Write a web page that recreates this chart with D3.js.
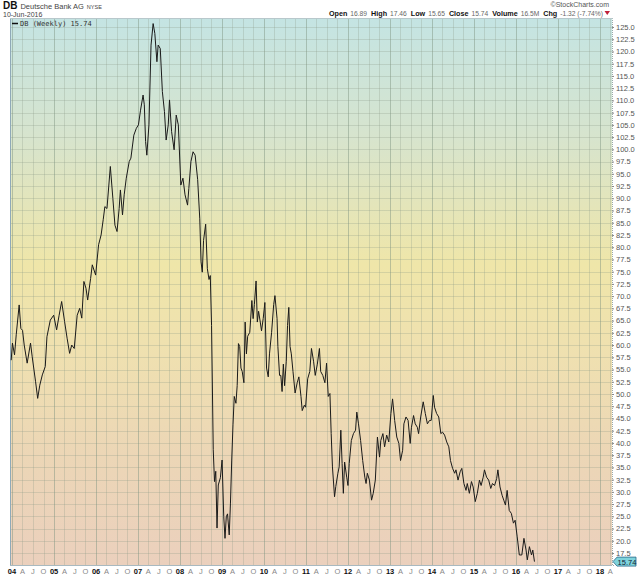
<!DOCTYPE html>
<html><head><meta charset="utf-8">
<script src="https://cdn.jsdelivr.net/npm/d3@7"></script>
<style>body{margin:0;background:#fff}svg{display:block}</style>
</head><body>
<svg id="c" width="640" height="576"></svg>
<script>
// ---- data (decimal years, weekly-ish closes) ----
const dates = [2003.98,2004.01,2004.06,2004.10,2004.17,2004.21,2004.25,2004.29,2004.36,2004.44,2004.48,2004.56,2004.61,2004.66,2004.72,2004.79,2004.83,2004.91,2004.99,2005.06,2005.12,2005.18,2005.25,2005.31,2005.37,2005.42,2005.48,2005.55,2005.61,2005.66,2005.71,2005.76,2005.80,2005.87,2005.91,2005.99,2006.06,2006.12,2006.17,2006.21,2006.26,2006.34,2006.40,2006.45,2006.50,2006.55,2006.58,2006.63,2006.67,2006.72,2006.79,2006.83,2006.90,2006.96,2007.01,2007.06,2007.12,2007.15,2007.18,2007.21,2007.26,2007.31,2007.36,2007.40,2007.45,2007.48,2007.53,2007.58,2007.63,2007.67,2007.72,2007.75,2007.80,2007.86,2007.91,2007.96,2008.02,2008.07,2008.12,2008.18,2008.21,2008.26,2008.31,
2008.36,2008.42,2008.47,2008.50,2008.53,2008.56,2008.61,2008.65,2008.69,2008.72,2008.75,2008.79,2008.82,2008.85,2008.88,2008.91,2008.96,2009.00,2009.04,2009.07,2009.10,2009.13,2009.17,2009.20,2009.23,2009.26,2009.29,2009.33,2009.36,2009.39,2009.42,2009.45,2009.48,2009.52,2009.55,2009.58,2009.61,2009.66,2009.71,2009.74,2009.77,2009.81,2009.84,2009.87,2009.91,2009.94,2009.98,2010.02,2010.06,2010.10,2010.13,2010.18,2010.23,2010.26,2010.31,2010.33,2010.37,2010.40,2010.43,2010.46,2010.49,2010.53,2010.56,2010.59,2010.62,2010.65,2010.69,2010.74,2010.79,2010.83,2010.88,2010.91,2010.96,2010.99,2011.04,2011.09,2011.13,2011.18,2011.22,2011.27,2011.32,2011.35,2011.40,2011.45,2011.49,2011.53,
2011.57,2011.60,2011.63,2011.68,2011.71,2011.76,2011.79,2011.83,2011.86,2011.89,2011.92,2011.97,2012.00,2012.03,2012.08,2012.13,2012.18,2012.21,2012.25,2012.30,2012.35,2012.40,2012.43,2012.46,2012.51,2012.56,2012.60,2012.65,2012.70,2012.75,2012.78,2012.83,2012.87,2012.92,2012.97,2013.02,2013.06,2013.11,2013.16,2013.21,2013.25,2013.30,2013.33,2013.38,2013.43,2013.48,2013.51,2013.56,2013.60,2013.65,2013.68,2013.73,2013.79,2013.84,2013.89,2013.94,2013.98,2014.03,2014.06,2014.11,2014.16,2014.21,2014.25,2014.30,2014.35,2014.40,2014.44,2014.49,2014.54,2014.57,2014.62,2014.67,2014.71,2014.76,2014.81,2014.84,2014.89,2014.94,2014.98,2015.03,2015.08,2015.13,2015.17,2015.22,2015.25,2015.30,2015.35,2015.40,2015.44,2015.49,2015.54,2015.57,2015.62,2015.67,2015.71,2015.75,2015.79,2015.84,2015.89,2015.94,2015.98,2016.03,2016.08,2016.14,2016.19,2016.24,2016.27,2016.32,2016.37,2016.40,2016.44];
const closes = [56.9,60.4,58.0,62.1,68.2,63.4,63.0,60.0,56.3,60.4,57.6,52.5,49.1,51.8,53.9,55.6,61.7,65.1,66.1,63.1,66.1,68.9,64.8,61.4,58.3,60.0,59.3,66.1,67.5,65.5,73.0,71.6,69.2,73.6,76.4,74.3,80.5,82.5,85.6,88.3,87.9,96.5,90.0,84.5,83.2,87.9,91.7,86.6,90.7,94.1,97.5,98.2,102.9,104.3,105.0,108.0,111.1,109.1,101.6,98.8,105.0,121.3,125.7,123.7,117.9,121.3,120.6,111.8,107.7,101.9,105.0,110.1,103.6,99.9,107.0,105.0,92.7,94.1,90.7,88.6,92.0,97.5,99.5,
98.8,93.8,85.8,77.0,74.9,81.4,84.7,75.6,73.4,74.2,64.0,38.6,32.1,34.2,22.6,31.4,32.9,36.5,24.9,20.5,24.9,25.5,21.2,27.7,36.5,43.7,49.5,48.1,51.7,60.3,59.7,55.3,54.6,52.3,64.7,58.2,61.8,62.6,69.1,65.4,68.3,73.1,64.7,66.9,64.7,62.9,65.4,68.7,55.3,53.5,58.2,62.6,68.3,70.1,65.4,59.7,53.8,53.8,50.5,56.1,51.7,56.7,64.0,67.7,59.7,58.2,54.6,50.2,52.3,53.5,49.5,46.6,47.7,47.3,53.1,54.6,59.3,56.7,53.8,56.1,59.3,54.6,53.8,52.3,56.3,49.5,
50.1,41.9,35.1,29.0,31.1,33.8,35.1,42.6,35.8,29.7,36.1,33.0,31.3,35.8,40.5,41.9,42.6,46.3,43.9,40.5,36.4,33.0,31.7,33.8,32.4,28.3,29.7,32.4,41.2,37.1,40.5,41.9,39.2,41.6,40.2,46.0,49.0,44.6,41.2,39.9,36.4,38.5,43.9,45.3,44.6,39.9,43.2,45.6,43.9,43.2,41.9,45.3,48.4,46.0,43.9,44.6,44.6,49.7,47.3,46.0,45.3,41.9,42.2,41.6,40.2,39.2,36.4,34.8,33.8,34.5,32.4,34.1,34.8,31.7,30.3,31.7,29.7,32.1,31.0,28.0,29.7,32.4,31.3,33.0,34.5,33.0,32.4,30.7,31.7,31.3,32.7,34.5,31.0,29.3,28.3,27.3,30.3,26.2,25.6,23.6,24.2,20.8,17.1,17.1,20.5,18.1,16.1,18.8,17.1,18.1,15.74];
const yTickValues = [17.5,20,22.5,25,27.5,30,32.5,35,37.5,40,42.5,45,47.5,50,52.5,55,57.5,60,62.5,65,67.5,70,72.5,75,77.5,80,82.5,85,87.5,90,92.5,95,97.5,100,102.5,105,107.5,110,112.5,115,117.5,120,122.5,125];
const xYears = [2004,2005,2006,2007,2008,2009,2010,2011,2012,2013,2014,2015,2016,2017,2018];
const monthLabels = ["A","J","O"];
const statLabels = ["Open","High","Low","Close","Volume","Chg"];
const statValues = ["16.89","17.46","15.65","15.74","16.5M","-1.32 (-7.74%)"];
const lastClose = "15.74";

// ---- layout ----
const L=10,R=612,T=18,B=565;
function ydate(y){const yr=Math.floor(y);const s=Date.UTC(yr,0,1),e=Date.UTC(yr+1,0,1);return new Date(s+(y-yr)*(e-s));}
const x=d3.scaleUtc().domain([ydate(2003.952),ydate(2018.286)]).range([L,R]);
const y=d3.scaleLinear().domain([15.05,126.84]).range([B,T]);
const svg=d3.select("#c");
const FONT="'Liberation Sans',Arial,sans-serif";

const defs=svg.append("defs");
const g=defs.append("linearGradient").attr("id","bg").attr("gradientUnits","userSpaceOnUse")
 .attr("x1",0).attr("y1",T).attr("x2",0).attr("y2",B);
[[0,"#c4e4e3"],[0.22,"#d7e4cd"],[0.45,"#efe6a9"],[0.62,"#efe0b0"],[0.8,"#ecd6b6"],[1,"#ebd0bd"]]
 .forEach(([o,c])=>g.append("stop").attr("offset",o).attr("stop-color",c));
svg.append("rect").attr("x",L).attr("y",T).attr("width",R-L).attr("height",B-T).attr("fill","url(#bg)");

// gridlines
const quarters=[];
xYears.forEach(yr=>{[0,3,6,9].forEach(m=>{const d=new Date(Date.UTC(yr,m,1));if(d<=x.domain()[1])quarters.push({d,m,yr});});});
svg.append("g").selectAll("line").data(yTickValues).join("line")
 .attr("x1",L).attr("x2",R).attr("y1",d=>Math.round(y(d))+0.5).attr("y2",d=>Math.round(y(d))+0.5)
 .attr("stroke","#8a9a88").attr("stroke-opacity",0.35).attr("stroke-width",0.8);
svg.append("g").selectAll("line").data(quarters).join("line")
 .attr("x1",d=>Math.round(x(d.d))+0.5).attr("x2",d=>Math.round(x(d.d))+0.5).attr("y1",T).attr("y2",B)
 .attr("stroke",d=>d.m===0?"#7f9480":"#8a9a88").attr("stroke-opacity",d=>d.m===0?0.6:0.35).attr("stroke-width",0.8);

// borders
svg.append("line").attr("x1",L+0.5).attr("x2",L+0.5).attr("y1",T).attr("y2",B).attr("stroke","#8fa9b8");
svg.append("line").attr("x1",L).attr("x2",R).attr("y1",B+0.5).attr("y2",B+0.5).attr("stroke","#a9b9c0");
svg.append("line").attr("x1",L).attr("x2",R).attr("y1",T+0.5).attr("y2",T+0.5).attr("stroke","#b8c8cc");

// right axis
const ya=svg.append("g").attr("transform",`translate(${R},0)`)
 .call(d3.axisRight(y).tickValues(yTickValues).tickSize(2).tickPadding(2).tickFormat(d3.format(".1f")));
ya.select(".domain").attr("stroke","#9aa").attr("stroke-dasharray","1,1");
ya.selectAll(".tick line").attr("stroke","#888");
ya.selectAll("text").attr("font-family",FONT).attr("font-size",7.5).attr("fill","#555");

// x labels
const xl=svg.append("g");
quarters.forEach(q=>{
 const lab=q.m===0?String(q.yr).slice(2):monthLabels[q.m/3-1];
 xl.append("text").attr("x",x(q.d)).attr("y",574).attr("text-anchor","middle")
  .attr("font-family",FONT).attr("font-size",7.5)
  .attr("font-weight",q.m===0?"bold":"normal").attr("fill",q.m===0?"#111":"#888").text(lab);
});

// price line
const pts=dates.map((d,i)=>({d:ydate(d),v:closes[i]}));
svg.append("path").datum(pts).attr("fill","none").attr("stroke","#1a1a1a").attr("stroke-width",1)
 .attr("stroke-linejoin","round").attr("d",d3.line().x(d=>x(d.d)).y(d=>y(d.v)));

// last value badge
const yl=y(+lastClose);
svg.append("path").attr("d",`M${R+1},${yl} L${R+5},${yl-4.5} L${R+24},${yl-4.5} L${R+24},${yl+4.5} L${R+5},${yl+4.5} Z`)
 .attr("fill","#7fd3dc").attr("stroke","#2a6a8a").attr("stroke-width",0.8);
svg.append("text").attr("x",R+15).attr("y",yl+3).attr("text-anchor","middle").attr("font-family",FONT)
 .attr("font-size",7.5).attr("fill","#123").text(lastClose);

// legend
svg.append("line").attr("x1",12).attr("x2",18).attr("y1",23.5).attr("y2",23.5).attr("stroke","#111").attr("stroke-width",1.5);
svg.append("text").attr("x",20).attr("y",26).attr("font-family","'DejaVu Sans Mono',monospace").attr("font-size",7)
 .attr("fill","#333").text("DB (Weekly) 15.74");

// header
const h=svg.append("text").attr("x",3).attr("y",9).attr("font-family",FONT);
h.append("tspan").attr("font-size",10).attr("font-weight","bold").attr("fill","#111").text("DB");
h.append("tspan").attr("dx",3).attr("font-size",7.5).attr("fill","#444").text("Deutsche Bank AG");
h.append("tspan").attr("dx",3).attr("font-size",5.5).attr("fill","#444").text("NYSE");
svg.append("text").attr("x",3).attr("y",16.5).attr("font-family",FONT).attr("font-size",7).attr("fill","#444").text("10-Jun-2016");
svg.append("text").attr("x",609).attr("y",7).attr("text-anchor","end").attr("font-family",FONT).attr("font-size",7)
 .attr("fill","#555").text("©StockCharts.com");
const st=svg.append("text").attr("x",603).attr("y",16).attr("text-anchor","end").attr("font-family",FONT).attr("font-size",7.2);
statLabels.forEach((l,i)=>{
 st.append("tspan").attr("dx",i?4:0).attr("font-weight","bold").attr("fill","#111").text(l);
 st.append("tspan").attr("dx",3).attr("fill","#666").attr("font-size",6.7).text(statValues[i]);
});
svg.append("path").attr("d","M604.5,11 L610,11 L607.25,15 Z").attr("fill","#c0203a");
</script>
</body></html>
